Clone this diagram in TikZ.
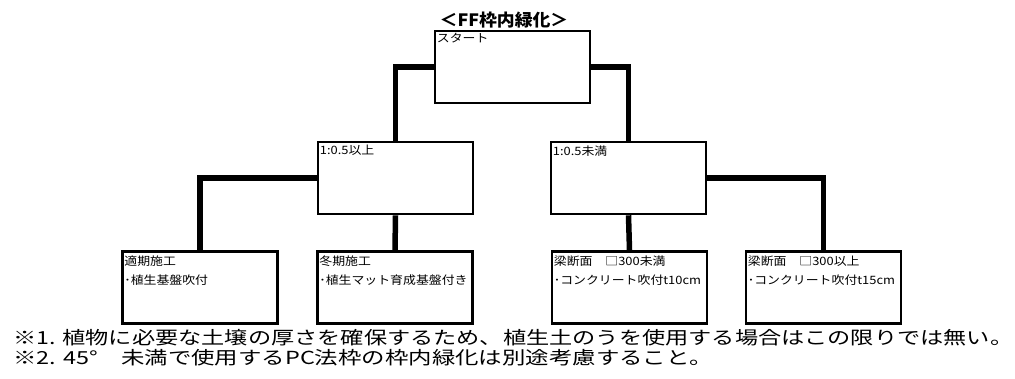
\documentclass[tikz,border=0pt]{standalone}
\usepackage{fontspec}
\setmainfont{Noto Sans CJK JP}
\usepackage{graphicx}
\newcommand{\bx}[1]{\scalebox{1.12}[1]{#1}}
\begin{document}
\begin{tikzpicture}[x=1pt,y=-1pt,
  box/.style={draw=black,line width=2.6pt,fill=white,minimum width=155pt,inner sep=0pt},
  topbox/.style={box,minimum height=72pt},
  conn/.style={line width=5.5pt,line join=miter},
  lbl/.style={anchor=west,inner sep=0pt,font=\fontsize{11.5}{12}\selectfont},
  note/.style={anchor=west,inner sep=0pt,font=\fontsize{18}{18}\selectfont}]
\useasboundingbox[fill=white] (0,0) rectangle (1015,379);
% title
\node[inner sep=0pt,font=\fontsize{17}{18}\selectfont\bfseries] (title) at (504,20) {\scalebox{1.05}[1]{＜FF枠内緑化＞}};
% boxes
\node[topbox] (start) at (512.5,67) {};
\node[topbox] (a) at (395.5,178) {};
\node[topbox] (b) at (628.5,178) {};
\node[topbox] (a1) at (200,287.5) {};
\node[topbox] (a2) at (395,287.5) {};
\node[topbox] (b1) at (629.5,287.5) {};
\node[topbox] (b2) at (823.5,287.5) {};
% connectors
\draw[conn] (start.west) -| (a.north);
\draw[conn] (start.east) -| (b.north);
\draw[conn] (a.west) -| (a1.north);
\draw[conn] (a.south) -- (a2.north);
\draw[conn] (b.south) -- (b1.north);
\draw[conn] (b.east) -| (b2.north);
% labels
\node[lbl] (tstart) at ([xshift=3pt,yshift=-8pt]start.north west) {\bx{スタート}};
\node[lbl] (ta) at ([xshift=3pt,yshift=-10pt]a.north west) {\bx{1:0.5以上}};
\node[lbl] (tb) at ([xshift=3pt,yshift=-10pt]b.north west) {\bx{1:0.5未満}};
\node[lbl] (ta1) at ([xshift=3pt,yshift=-11pt]a1.north west) {\bx{適期施工}};
\node[lbl] (ta1b) at ([xshift=3pt,yshift=-30pt]a1.north west) {\bx{･植生基盤吹付}};
\node[lbl] (ta2) at ([xshift=3pt,yshift=-11pt]a2.north west) {\bx{冬期施工}};
\node[lbl] (ta2b) at ([xshift=3pt,yshift=-30pt]a2.north west) {\bx{･植生マット育成基盤付き}};
\node[lbl] (tb1) at ([xshift=3pt,yshift=-11pt]b1.north west) {\bx{梁断面　□300未満}};
\node[lbl] (tb1b) at ([xshift=3pt,yshift=-30pt]b1.north west) {\bx{･コンクリート吹付t10cm}};
\node[lbl] (tb2) at ([xshift=3pt,yshift=-11pt]b2.north west) {\bx{梁断面　□300以上}};
\node[lbl] (tb2b) at ([xshift=3pt,yshift=-30pt]b2.north west) {\bx{･コンクリート吹付t15cm}};
% notes
\node[note] (n1) at (13,338) {\resizebox{1000pt}{\height}{※1. 植物に必要な土壌の厚さを確保するため、植生土のうを使用する場合はこの限りでは無い。}};
\node[note] (n2) at (13,358) {\resizebox{700pt}{\height}{※2. 45°　未満で使用するPC法枠の枠内緑化は別途考慮すること。}};
\end{tikzpicture}
\end{document}
